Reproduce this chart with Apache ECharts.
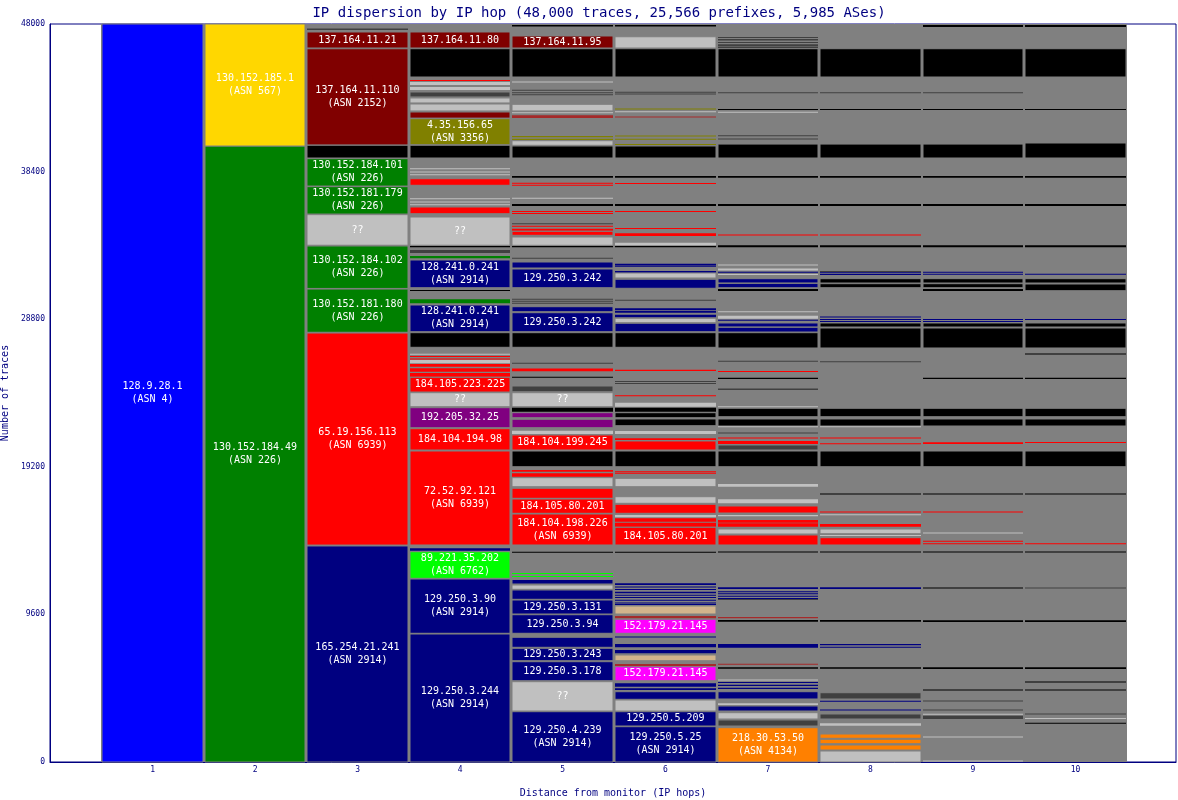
<!DOCTYPE html>
<html><head><meta charset="utf-8">
<script src="https://cdn.jsdelivr.net/npm/echarts@6.0.0/dist/echarts.min.js"></script>
<style>html,body{margin:0;padding:0;background:#fff}#c{width:1178px;height:800px}</style>
</head><body><div id="c"></div><script>
// hop numbers (x categories) and y tick labels
const hops = [1,2,3,4,5,6,7,8,9,10];
const yTicks = [0,9600,19200,28800,38400,48000];
const titleText = 'IP dispersion by IP hop (48,000 traces, 25,566 prefixes, 5,985 ASes)';

// segments per hop: [from, to, colourKey, label]
const hop1 = [[0,48000,'B','128.9.28.1\n(ASN 4)']];
const hop2 = [[0,40065,'G','130.152.184.49\n(ASN 226)'],[40065,48000,'Y','130.152.185.1\n(ASN 567)']];
const hop3 = [
 [47610,47700,'D'],
 [46440,47480,'DR','137.164.11.21'],
 [40130,46390,'DR','137.164.11.110\n(ASN 2152)'],
 [39284,40110,'K'],
 [37460,39240,'G','130.152.184.101\n(ASN 226)'],
 [35640,37420,'G','130.152.181.179\n(ASN 226)'],
 [33610,35600,'L','??'],
 [30800,33560,'G','130.152.184.102\n(ASN 226)'],
 [27950,30760,'G','130.152.181.180\n(ASN 226)'],
 [14110,27900,'R','65.19.156.113\n(ASN 6939)'],
 [0,14050,'N','165.254.21.241\n(ASN 2914)']
];
const hop4 = [
 [46440,47480,'DR','137.164.11.80'],
 [44552,46393,'K'],
 [44290,44360,'R'],[44030,44230,'L'],[43700,43900,'L'],[43256,43577,'D'],
 [42865,43187,'L'],[42345,42796,'L'],[41880,42276,'DR'],
 [40149,41841,'O','4.35.156.65\n(ASN 3356)'],
 [39284,40110,'K'],
 [38570,38620,'L'],[38350,38400,'L'],[38170,38220,'L'],
 [37509,37938,'R'],
 [36620,36670,'L'],[36400,36450,'L'],[36220,36270,'L'],
 [35661,36097,'R'],
 [33610,35447,'L','??'],
 [33476,33561,'K'],[33105,33300,'D'],[32760,32910,'G'],
 [30849,32650,'N','128.241.0.241\n(ASN 2914)'],
 [30634,30700,'K'],[29834,30094,'G'],
 [27987,29723,'N','128.241.0.241\n(ASN 2914)'],
 [26972,27922,'K'],
 [26500,26560,'L'],[26341,26406,'R'],[26190,26250,'R'],[25931,26146,'L'],
 [25710,25886,'R'],[25385,25606,'R'],[25060,25300,'R'],
 [24064,25021,'R','184.105.223.225'],
 [23109,24019,'L','??'],
 [21743,23044,'P','192.205.32.25'],
 [20292,21678,'R','184.104.194.98'],
 [14114,20227,'R','72.52.92.121\n(ASN 6939)'],
 [13743,13899,'N'],
 [11948,13678,'LI','89.221.35.202\n(ASN 6762)'],
 [8371,11902,'N','129.250.3.90\n(ASN 2914)'],
 [0,8325,'N','129.250.3.244\n(ASN 2914)']
];
const hop5 = [
 [47840,47930,'K'],
 [46440,47220,'DR','137.164.11.95'],
 [44552,46393,'K'],
 [44200,44260,'L'],[43660,43720,'D'],[43500,43560,'D'],[43370,43430,'D'],
 [42345,42776,'L'],[42200,42260,'L'],[41885,42060,'BR'],
 [40630,40715,'O'],[40455,40540,'O'],[40110,40409,'L'],
 [39284,40065,'K'],
 [38000,38110,'K'],[37630,37680,'R'],[37500,37550,'R'],
 [36640,36700,'L'],[36162,36292,'K'],[35790,35840,'R'],[35660,35710,'R'],
 [34980,35040,'D'],[34820,34880,'R'],[34556,34686,'R'],[34256,34517,'R'],
 [33606,34146,'L'],[33476,33561,'K'],[32730,32790,'D'],
 [32130,32520,'N'],
 [30849,32065,'N','129.250.3.242'],
 [30080,30130,'D'],[29950,30000,'D'],[29820,29870,'D'],
 [29288,29613,'N'],
 [27987,29223,'N','129.250.3.242'],
 [26972,27922,'K'],
 [25900,25960,'D'],[25420,25600,'R'],[25000,25060,'K'],[24084,24455,'D'],
 [23109,24019,'L','??'],
 [22784,23044,'K'],[22394,22719,'P'],[21743,22289,'P'],[21333,21548,'L'],
 [20292,21268,'R','184.104.199.245'],
 [19206,20227,'K'],
 [18880,18990,'R'],[18556,18775,'R'],[17906,18491,'L'],[17151,17801,'R'],
 [16175,17106,'R','184.105.80.201'],
 [14114,16130,'R','184.104.198.226\n(ASN 6939)'],
 [13610,13670,'K'],[12230,12290,'LI'],[12030,12090,'LI'],
 [11577,11870,'N'],[11232,11512,'L'],[10582,11187,'N'],
 [9626,10536,'N','129.250.3.131'],
 [8371,9580,'N','129.250.3.94'],
 [7460,8111,'N'],
 [6589,7395,'N','129.250.3.243'],
 [5288,6524,'N','129.250.3.178'],
 [3317,5223,'L','??'],
 [0,3272,'N','129.250.4.239\n(ASN 2914)']
];
const hop6 = [
 [47840,47930,'K'],[46440,47170,'L'],[44552,46393,'K'],
 [43530,43590,'D'],[43430,43480,'D'],[42440,42500,'O'],[42270,42320,'L'],[41930,41990,'BR'],
 [40690,40750,'O'],[40480,40540,'O'],[40130,40190,'O'],
 [39284,40065,'K'],
 [38000,38110,'K'],[37600,37660,'R'],[36162,36292,'K'],[35790,35840,'R'],
 [34670,34730,'R'],[34211,34386,'R'],[33606,33776,'L'],[33476,33561,'K'],
 [32300,32400,'N'],[32240,32280,'N'],[31820,31935,'N'],[31480,31805,'L'],[30810,31395,'N'],
 [30000,30060,'D'],[29400,29510,'N'],[29223,29353,'N'],[28925,29094,'N'],[28572,28859,'L'],[27987,28533,'N'],
 [26972,27922,'K'],
 [25430,25520,'R'],[24720,24780,'D'],[24590,24650,'D'],[23800,23860,'R'],[23109,23369,'L'],
 [22784,23044,'K'],[22394,22719,'K'],[21873,22310,'K'],[21333,21523,'L'],
 [20943,21054,'R'],[20292,20880,'R'],
 [19206,20227,'K'],
 [18850,18910,'R'],[18750,18810,'R'],[17906,18452,'L'],[16826,17255,'L'],[16175,16761,'R'],
 [15915,16065,'L'],[15629,15850,'R'],[15304,15564,'R'],
 [14114,15265,'R','184.105.80.201'],
 [13610,13670,'K'],
 [11512,11623,'N'],[11370,11410,'N'],[11200,11250,'N'],[10972,11080,'N'],
 [10840,10880,'N'],[10690,10730,'N'],[10510,10560,'N'],[10340,10380,'N'],[10230,10270,'N'],
 [9626,10146,'T'],[9346,9496,'BR'],
 [8371,9281,'M','152.179.21.145'],
 [8100,8160,'N'],[7460,7675,'N'],[7070,7284,'N'],[6589,6959,'T'],[6244,6374,'BR'],
 [5288,6198,'M','152.179.21.145'],
 [4898,5119,'N'],[4683,4793,'N'],[4078,4572,'N'],[3317,4032,'L'],
 [2341,3272,'N','129.250.5.209'],
 [0,2296,'N','129.250.5.25\n(ASN 2914)']
];
const hop7 = [
 [47090,47155,'D'],[46920,47025,'D'],[46760,46830,'D'],[46570,46680,'D'],[46440,46540,'D'],
 [44552,46393,'K'],
 [43500,43560,'D'],[42410,42470,'K'],[42240,42300,'L'],[40700,40760,'D'],[40500,40560,'D'],
 [39284,40190,'K'],
 [38000,38110,'K'],[36162,36292,'K'],[34250,34310,'R'],[33476,33606,'K'],
 [32290,32350,'L'],[31960,32090,'L'],[31840,31890,'N'],[31680,31740,'L'],[31154,31434,'N'],[30849,31130,'N'],[30634,30764,'K'],
 [29250,29310,'L'],[28833,29020,'L'],[28700,28760,'N'],[28292,28553,'N'],[27967,28272,'N'],
 [26927,27922,'K'],
 [26030,26090,'D'],[25370,25430,'R'],[24910,24990,'K'],[24200,24300,'D'],
 [23080,23140,'L'],[22459,23005,'K'],[21853,22310,'K'],[21790,21840,'L'],[21370,21430,'D'],
 [21040,21100,'R'],[20683,20878,'R'],[20292,20618,'D'],
 [19206,20227,'K'],
 [17906,18081,'L'],[16826,17086,'L'],[16195,16650,'R'],[15980,16065,'L'],[15564,15740,'R'],
 [15304,15525,'R'],[14829,15154,'L'],[14114,14764,'R'],
 [13630,13690,'K'],
 [11252,11362,'N'],[11050,11100,'N'],[10920,10970,'N'],[10770,10820,'N'],[10620,10670,'N'],[10540,10600,'D'],
 [9346,9430,'BR'],[9125,9236,'K'],[7434,7675,'N'],[6330,6390,'BR'],[6068,6159,'K'],
 [5300,5360,'L'],[5150,5210,'N'],[4950,5030,'N'],[4750,4830,'N'],[4098,4572,'N'],
 [3707,3818,'L'],[3317,3642,'N'],[2797,3207,'L'],[2341,2732,'D'],
 [0,2231,'OR','218.30.53.50\n(ASN 4134)']
];
const hop8 = [
 [44552,46393,'K'],[43500,43560,'D'],[42410,42470,'K'],
 [39284,40190,'K'],
 [38000,38110,'K'],[36162,36292,'K'],[34250,34310,'R'],[33476,33606,'K'],
 [31880,31940,'D'],[31800,31850,'N'],[31680,31740,'N'],[31154,31434,'K'],[30849,31110,'K'],
 [28930,28980,'N'],[28770,28820,'N'],[28640,28690,'N'],[28292,28553,'K'],
 [26927,28227,'K'],
 [26000,26060,'D'],
 [22459,23005,'K'],[21853,22310,'K'],[21790,21840,'L'],[21040,21100,'R'],[20683,20730,'R'],
 [19206,20227,'K'],
 [17400,17460,'K'],[16240,16300,'R'],[16060,16120,'L'],[15304,15480,'R'],[14849,15154,'L'],[14700,14760,'L'],[14114,14589,'R'],
 [13630,13690,'K'],[11252,11362,'N'],[9125,9236,'K'],[7590,7675,'N'],[7434,7500,'N'],[6068,6159,'K'],
 [4098,4507,'D'],[3930,3990,'N'],[3350,3410,'N'],[2797,3122,'D'],[2361,2517,'L'],
 [1541,1821,'OR'],[1190,1476,'OR'],[780,1106,'OR'],[0,715,'L']
];
const hop9 = [
 [47805,47935,'K'],[44552,46393,'K'],[43500,43560,'D'],[42410,42470,'K'],
 [39284,40190,'K'],
 [38000,38110,'K'],[36162,36292,'K'],[33476,33606,'K'],
 [31840,31890,'N'],[31710,31760,'N'],[31154,31434,'K'],[30849,31110,'K'],[30634,30764,'K'],
 [28770,28820,'N'],[28640,28690,'N'],[28292,28553,'K'],
 [26927,28227,'K'],
 [24910,24990,'K'],
 [22459,23005,'K'],[21853,22310,'K'],[20683,20800,'R'],
 [19206,20227,'K'],
 [17400,17460,'K'],[16240,16300,'R'],[14870,14930,'L'],[14330,14390,'R'],[14180,14230,'R'],
 [13630,13690,'K'],[11252,11380,'D'],[9110,9220,'K'],[6050,6159,'K'],[4660,4720,'K'],
 [3940,4000,'D'],[3350,3410,'D'],[3090,3140,'L'],[2797,3011,'D'],[1600,1660,'L'],[40,100,'L']
];
const hop10 = [
 [47805,47935,'K'],[44552,46393,'K'],[42410,42470,'K'],
 [39284,40260,'K'],
 [38000,38110,'K'],[36162,36292,'K'],[33476,33606,'K'],
 [31710,31760,'N'],[31154,31434,'K'],[30654,31089,'K'],
 [28770,28820,'N'],[28292,28553,'K'],
 [26927,28227,'K'],
 [26510,26570,'K'],[24910,24990,'K'],
 [22459,23005,'K'],[21853,22310,'K'],[20750,20810,'R'],
 [19206,20227,'K'],
 [17400,17460,'K'],[14180,14230,'R'],[13630,13690,'K'],[11290,11350,'D'],[9110,9220,'K'],
 [6050,6159,'K'],[5170,5230,'K'],[4660,4720,'K'],[3090,3150,'D'],[2800,2860,'L'],[2490,2550,'K']
];

const palette = {
 B:'#0000ff', Y:'#ffd700', G:'#008000', R:'#ff0000', DR:'#800000', K:'#000000',
 N:'#000080', L:'#c0c0c0', D:'#404040', O:'#808000', P:'#800080', LI:'#00ff00',
 M:'#ff00ff', T:'#d2b48c', BR:'#a52a2a', OR:'#ff8000'
};
const navy = '#000080';
const mono = '"DejaVu Sans Mono", monospace';

const allHops = [hop1,hop2,hop3,hop4,hop5,hop6,hop7,hop8,hop9,hop10];
const segMeta = [];
const segData = [];
allHops.forEach((arr, i) => {
  arr.forEach(s => { segData.push([hops[i], s[0], s[1]]); segMeta.push(s); });
});

function renderBg(params, api) {
  const p0 = api.coord([api.value(0) - 0.5, 0]);
  const p1 = api.coord([api.value(0) + 0.5, 48000]);
  return {type:'rect', shape:{x:Math.round(p0[0]), y:p1[1], width:Math.round(p1[0])-Math.round(p0[0]), height:p0[1]-p1[1]},
    style:{fill:'#808080'}};
}
function renderSeg(params, api) {
  const col = api.value(0), lo = api.value(1), hi = api.value(2);
  const p0 = api.coord([col - 0.5, lo]);
  const p1 = api.coord([col + 0.5, hi]);
  const x = Math.round(p0[0]) + 1;
  const w = Math.round(p1[0]) - Math.round(p0[0]) - 2;
  const yTop = p1[1];
  const h = Math.max(p0[1] - p1[1], 1);
  const meta = segMeta[params.dataIndex];
  const thick = h >= 4;
  const children = [{type:'rect', shape:{x:x, y:yTop, width:w, height:h},
    style:{fill:palette[meta[2]], stroke: thick ? '#808080' : null, lineWidth: thick ? 1 : 0}}];
  if (meta[3]) {
    children.push({type:'text', style:{text:meta[3], x:x + w/2, y:yTop + h/2, align:'center', verticalAlign:'middle',
      fill:'#ffffff', fontFamily:'DejaVu Sans Mono', fontSize:10, lineHeight:13}});
  }
  return {type:'group', children};
}

const chart = echarts.init(document.getElementById('c'), null, {renderer:'canvas'});
chart.setOption({
  animation:false,
  backgroundColor:'#ffffff',
  title:{text:titleText, left:594, top:1, textAlign:'center',
    textStyle:{color:navy, fontFamily:mono, fontSize:14, fontWeight:'normal'}},
  grid:{left:50, right:2, top:24, bottom:38, containLabel:false, outerBoundsMode:'none',
    show:true, borderColor:navy, borderWidth:1, backgroundColor:'#ffffff'},
  xAxis:{type:'value', min:0, max:10.98, interval:1,
    name:'Distance from monitor (IP hops)', nameLocation:'middle', nameGap:26,
    nameTextStyle:{color:navy, fontFamily:mono, fontSize:10},
    axisLine:{lineStyle:{color:navy}}, axisTick:{show:false}, splitLine:{show:false},
    axisLabel:{color:navy, fontFamily:mono, fontSize:8, margin:4,
      formatter:v => hops.indexOf(v) >= 0 ? String(v) : ''}},
  yAxis:{type:'value', min:0, max:48000, interval:9600,
    name:'Number of traces', nameLocation:'middle', nameGap:34,
    nameTextStyle:{color:navy, fontFamily:mono, fontSize:10},
    axisLine:{show:true, lineStyle:{color:navy}}, axisTick:{show:false}, splitLine:{show:false},
    axisLabel:{color:navy, fontFamily:mono, fontSize:8, margin:5,
      formatter:v => yTicks.indexOf(v) >= 0 ? String(v) : ''}},
  series:[
    {type:'custom', renderItem:renderBg, data:hops.map(h => [h, 0, 48000]), silent:true, clip:false},
    {type:'custom', renderItem:renderSeg, data:segData, silent:true, clip:false}
  ]
});
</script></body></html>
